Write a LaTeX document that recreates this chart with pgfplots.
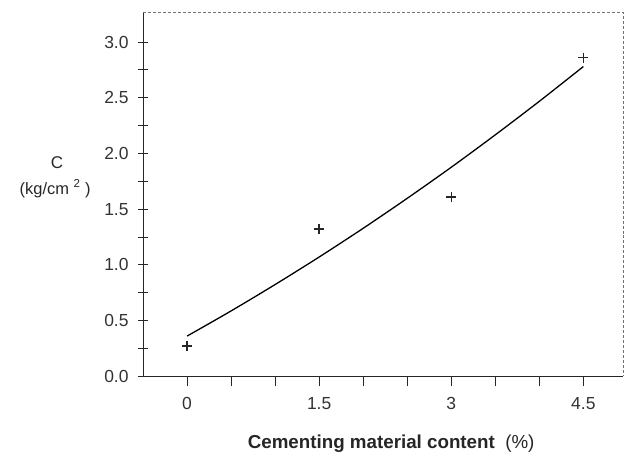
\documentclass[border=0pt]{standalone}
\usepackage{fontspec}
\setmainfont{Liberation Sans}
\usepackage{pgfplots}
\pgfplotsset{compat=1.18}
\begin{document}
\begin{tikzpicture}
\begin{axis}[
  scale only axis,
  width=481pt, height=365pt,
  xmin=-0.5, xmax=4.95,
  ymin=0, ymax=3.27,
  axis x line*=bottom, axis y line*=left,
  axis line style={black!85, line width=0.9pt},
  xtick={0,1.5,3,4.5},
  xticklabels={0,1.5,3,4.5},
  minor xtick={0.5,1,2,2.5,3.5,4},
  ytick={0,0.5,1,1.5,2,2.5,3},
  minor ytick={0.25,0.75,1.25,1.75,2.25,2.75},
  yticklabel style={/pgf/number format/fixed,/pgf/number format/precision=1,/pgf/number format/fixed zerofill},
  /pgf/number format/assume math mode=true,
  tick label style={font=\fontsize{17.5}{19}\selectfont, text=black!80},
  xtick align=outside, ytick align=center,
  major tick length=10pt, minor tick length=10pt,
  tick style={black!85, line width=0.8pt},
  xticklabel style={yshift=-8pt},
  yticklabel style={xshift=-6pt},
  clip=false,
]
\addplot[black, line width=1.3pt, smooth] coordinates {
  (0,0.36) (0.5,0.586) (1.0,0.823) (1.5,1.07) (2.0,1.328) (2.5,1.597)
  (3.0,1.876) (3.5,2.167) (4.0,2.468) (4.5,2.78)
};
\addplot[only marks, mark=+, mark size=5pt, black!85, mark options={line width=1.4pt}] coordinates {
  (0,0.27) (1.5,1.32) (3,1.61) (4.5,2.86)
};
\draw[black!55, densely dashed, line width=0.7pt] (rel axis cs:0,1) -- (rel axis cs:1,1) -- (rel axis cs:1,0);
\node[font=\fontsize{17}{19}\selectfont, text=black!85] at (rel axis cs:-0.179,0.586) {C};
\node[font=\fontsize{16.5}{18}\selectfont, text=black!85] at (rel axis cs:-0.183,0.515) {(kg/cm \textsuperscript{2} )};
\node[font=\fontsize{18.8}{21}\selectfont, text=black!85] at (rel axis cs:0.517,-0.186) {\textbf{Cementing material content}\ \ (\%)};
\coordinate (bl) at (rel axis cs:-0.298,-0.222);
\coordinate (tr) at (rel axis cs:1.0167,1.0329);
\end{axis}
\path (bl) rectangle (tr);
\end{tikzpicture}
\end{document}
